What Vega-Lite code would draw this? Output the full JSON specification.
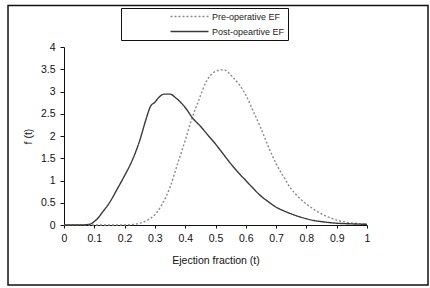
{
  "$schema": "https://vega.github.io/schema/vega-lite/v6.json",
  "width": 303,
  "height": 178,
  "autosize": "none",
  "padding": {"left": 64, "top": 47, "right": 63, "bottom": 63},
  "background": "white",
  "config": {
    "view": {"stroke": null},
    "font": "Liberation Sans",
    "axis": {"labelFont": "Liberation Sans", "titleFont": "Liberation Sans", "labelColor": "#111", "titleColor": "#111", "domainColor": "#111", "tickColor": "#111", "grid": false, "titleFontWeight": "normal", "labelFontSize": 10.5, "titleFontSize": 10.5, "labelOverlap": false},
    "legend": {"title": null, "orient": "none", "legendX": 57, "legendY": -39, "strokeColor": "#111", "padding": 3, "symbolType": "M-4,0H4", "symbolSize": 90, "symbolStrokeWidth": 1.4, "symbolOffset": 60, "labelOffset": 17, "labelFontSize": 9, "labelColor": "#222", "labelFont": "Liberation Sans", "rowPadding": 4}
  },
  "layer": [
    {
      "data": {"values": [
        {"t": 0, "f": 0, "series": "Pre-operative EF"},
        {"t": 0.2, "f": 0, "series": "Pre-operative EF"},
        {"t": 0.225, "f": 0.01, "series": "Pre-operative EF"},
        {"t": 0.25, "f": 0.04, "series": "Pre-operative EF"},
        {"t": 0.275, "f": 0.11, "series": "Pre-operative EF"},
        {"t": 0.3, "f": 0.23, "series": "Pre-operative EF"},
        {"t": 0.325, "f": 0.48, "series": "Pre-operative EF"},
        {"t": 0.35, "f": 0.85, "series": "Pre-operative EF"},
        {"t": 0.375, "f": 1.38, "series": "Pre-operative EF"},
        {"t": 0.4, "f": 1.9, "series": "Pre-operative EF"},
        {"t": 0.42, "f": 2.35, "series": "Pre-operative EF"},
        {"t": 0.445, "f": 2.81, "series": "Pre-operative EF"},
        {"t": 0.467, "f": 3.19, "series": "Pre-operative EF"},
        {"t": 0.5, "f": 3.45, "series": "Pre-operative EF"},
        {"t": 0.525, "f": 3.49, "series": "Pre-operative EF"},
        {"t": 0.56, "f": 3.3, "series": "Pre-operative EF"},
        {"t": 0.6, "f": 2.92, "series": "Pre-operative EF"},
        {"t": 0.625, "f": 2.55, "series": "Pre-operative EF"},
        {"t": 0.65, "f": 2.17, "series": "Pre-operative EF"},
        {"t": 0.675, "f": 1.75, "series": "Pre-operative EF"},
        {"t": 0.7, "f": 1.38, "series": "Pre-operative EF"},
        {"t": 0.725, "f": 1.08, "series": "Pre-operative EF"},
        {"t": 0.75, "f": 0.81, "series": "Pre-operative EF"},
        {"t": 0.775, "f": 0.62, "series": "Pre-operative EF"},
        {"t": 0.8, "f": 0.47, "series": "Pre-operative EF"},
        {"t": 0.825, "f": 0.35, "series": "Pre-operative EF"},
        {"t": 0.85, "f": 0.25, "series": "Pre-operative EF"},
        {"t": 0.875, "f": 0.17, "series": "Pre-operative EF"},
        {"t": 0.9, "f": 0.11, "series": "Pre-operative EF"},
        {"t": 0.925, "f": 0.07, "series": "Pre-operative EF"},
        {"t": 0.95, "f": 0.045, "series": "Pre-operative EF"},
        {"t": 0.975, "f": 0.03, "series": "Pre-operative EF"},
        {"t": 1.0, "f": 0.02, "series": "Pre-operative EF"},
        {"t": 0, "f": 0, "series": "Post-opeartive EF"},
        {"t": 0.05, "f": 0, "series": "Post-opeartive EF"},
        {"t": 0.07, "f": 0.005, "series": "Post-opeartive EF"},
        {"t": 0.09, "f": 0.03, "series": "Post-opeartive EF"},
        {"t": 0.1, "f": 0.08, "series": "Post-opeartive EF"},
        {"t": 0.11, "f": 0.14, "series": "Post-opeartive EF"},
        {"t": 0.125, "f": 0.27, "series": "Post-opeartive EF"},
        {"t": 0.15, "f": 0.5, "series": "Post-opeartive EF"},
        {"t": 0.175, "f": 0.8, "series": "Post-opeartive EF"},
        {"t": 0.2, "f": 1.11, "series": "Post-opeartive EF"},
        {"t": 0.225, "f": 1.45, "series": "Post-opeartive EF"},
        {"t": 0.25, "f": 1.9, "series": "Post-opeartive EF"},
        {"t": 0.27, "f": 2.36, "series": "Post-opeartive EF"},
        {"t": 0.285, "f": 2.66, "series": "Post-opeartive EF"},
        {"t": 0.3, "f": 2.76, "series": "Post-opeartive EF"},
        {"t": 0.315, "f": 2.88, "series": "Post-opeartive EF"},
        {"t": 0.33, "f": 2.94, "series": "Post-opeartive EF"},
        {"t": 0.35, "f": 2.94, "series": "Post-opeartive EF"},
        {"t": 0.37, "f": 2.85, "series": "Post-opeartive EF"},
        {"t": 0.4, "f": 2.64, "series": "Post-opeartive EF"},
        {"t": 0.425, "f": 2.4, "series": "Post-opeartive EF"},
        {"t": 0.45, "f": 2.22, "series": "Post-opeartive EF"},
        {"t": 0.475, "f": 2.02, "series": "Post-opeartive EF"},
        {"t": 0.5, "f": 1.82, "series": "Post-opeartive EF"},
        {"t": 0.525, "f": 1.6, "series": "Post-opeartive EF"},
        {"t": 0.55, "f": 1.38, "series": "Post-opeartive EF"},
        {"t": 0.575, "f": 1.18, "series": "Post-opeartive EF"},
        {"t": 0.6, "f": 1.0, "series": "Post-opeartive EF"},
        {"t": 0.625, "f": 0.82, "series": "Post-opeartive EF"},
        {"t": 0.65, "f": 0.65, "series": "Post-opeartive EF"},
        {"t": 0.675, "f": 0.52, "series": "Post-opeartive EF"},
        {"t": 0.7, "f": 0.4, "series": "Post-opeartive EF"},
        {"t": 0.725, "f": 0.32, "series": "Post-opeartive EF"},
        {"t": 0.75, "f": 0.25, "series": "Post-opeartive EF"},
        {"t": 0.775, "f": 0.19, "series": "Post-opeartive EF"},
        {"t": 0.8, "f": 0.14, "series": "Post-opeartive EF"},
        {"t": 0.825, "f": 0.1, "series": "Post-opeartive EF"},
        {"t": 0.85, "f": 0.075, "series": "Post-opeartive EF"},
        {"t": 0.875, "f": 0.055, "series": "Post-opeartive EF"},
        {"t": 0.9, "f": 0.04, "series": "Post-opeartive EF"},
        {"t": 0.95, "f": 0.025, "series": "Post-opeartive EF"},
        {"t": 1.0, "f": 0.015, "series": "Post-opeartive EF"}
      ]},
      "mark": {"type": "line", "interpolate": "monotone", "strokeWidth": 1.4},
      "encoding": {
        "x": {"field": "t", "type": "quantitative",
          "scale": {"domain": [0, 1], "nice": false, "zero": false},
          "axis": {"title": "Ejection fraction (t)", "values": [0, 0.1, 0.2, 0.3, 0.4, 0.5, 0.6, 0.7, 0.8, 0.9, 1], "format": "~g", "tickSize": 3, "labelPadding": 5, "titlePadding": 12, "labelFlush": false}},
        "y": {"field": "f", "type": "quantitative",
          "scale": {"domain": [0, 4], "nice": false},
          "axis": {"title": "f (t)", "values": [0, 0.5, 1, 1.5, 2, 2.5, 3, 3.5, 4], "format": "~g", "tickSize": 4, "labelPadding": 5, "titlePadding": 7}},
        "color": {"field": "series", "type": "nominal",
          "scale": {"domain": ["Pre-operative EF", "Post-opeartive EF"], "range": ["#8a8a8a", "#3a3a3a"]},
          "legend": {"labelExpr": "datum.label + '\u00a0\u00a0\u00a0\u00a0\u00a0\u00a0\u00a0\u00a0\u00a0\u00a0\u00a0\u00a0\u00a0'"}},
        "strokeDash": {"field": "series", "type": "nominal",
          "scale": {"domain": ["Pre-operative EF", "Post-opeartive EF"], "range": [[2, 2], [1, 0]]},
          "legend": {"labelExpr": "datum.label + '\u00a0\u00a0\u00a0\u00a0\u00a0\u00a0\u00a0\u00a0\u00a0\u00a0\u00a0\u00a0\u00a0'"}}
      }
    },
    {
      "data": {"values": [{}]},
      "mark": {"type": "rect", "fill": null, "stroke": "#111", "strokeWidth": 1.5},
      "encoding": {
        "x": {"datum": -0.1848, "type": "quantitative",
          "axis": {"title": "Ejection fraction (t)", "values": [0, 0.1, 0.2, 0.3, 0.4, 0.5, 0.6, 0.7, 0.8, 0.9, 1], "format": "~g", "tickSize": 3, "labelPadding": 5, "titlePadding": 12, "labelFlush": false}},
        "x2": {"datum": 1.2013},
        "y": {"datum": 4.933, "type": "quantitative",
          "axis": {"title": "f (t)", "values": [0, 0.5, 1, 1.5, 2, 2.5, 3, 3.5, 4], "format": "~g", "tickSize": 4, "labelPadding": 5, "titlePadding": 7}},
        "y2": {"datum": -1.348}
      }
    }
  ]
}
